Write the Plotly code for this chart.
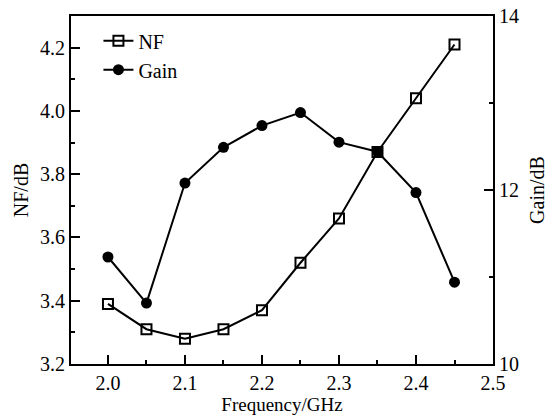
import plotly.graph_objects as go

freq = [2.0, 2.05, 2.1, 2.15, 2.2, 2.25, 2.3, 2.35, 2.4, 2.45]
nf = [3.39, 3.31, 3.28, 3.31, 3.37, 3.52, 3.66, 3.87, 4.04, 4.21]
gain = [11.23, 10.70, 12.08, 12.49, 12.74, 12.89, 12.55, 12.44, 11.97, 10.94]

FONT = "Liberation Serif"

fig = go.Figure()
fig.add_trace(go.Scatter(
    x=freq, y=nf, name="NF", mode="lines+markers",
    line=dict(color="black", width=2),
    marker=dict(symbol="square-open", size=10, color="black", line=dict(width=2)),
))
fig.add_trace(go.Scatter(
    x=freq, y=gain, name="Gain", mode="lines+markers", yaxis="y2",
    line=dict(color="black", width=2),
    marker=dict(symbol="circle", size=11, color="black"),
))

axis_common = dict(
    showgrid=False, zeroline=False, showline=True, linecolor="black", linewidth=2,
    ticks="inside", ticklen=9, tickwidth=1.5, tickcolor="black", automargin=False,
    tickfont=dict(family=FONT, size=20, color="black"),
)

fig.update_layout(
    width=548, height=416,
    margin=dict(l=71, r=55, t=16, b=52),
    paper_bgcolor="white", plot_bgcolor="white",
    font=dict(family=FONT, size=20, color="black"),
    showlegend=True,
    legend=dict(x=0.065, y=0.985, xanchor="left", yanchor="top",
                bgcolor="rgba(0,0,0,0)", font=dict(family=FONT, size=20),
                itemwidth=30, tracegroupgap=0),
    xaxis=dict(
        **axis_common, range=[1.952, 2.5], dtick=0.1, tick0=2.0, tickformat=".1f",
        mirror=True,
        minor=dict(ticks="inside", ticklen=4, dtick=0.05, tick0=2.0, tickcolor="black", tickwidth=1.5),
        title=dict(text="Frequency/GHz", font=dict(family=FONT, size=19), standoff=2),
    ),
    yaxis=dict(
        **axis_common, range=[3.2, 4.3], dtick=0.2, tick0=3.2, tickformat=".1f",
        minor=dict(ticks="inside", ticklen=4, dtick=0.1, tick0=3.2, tickcolor="black", tickwidth=1.5),
        title=dict(text="NF/dB", font=dict(family=FONT, size=20), standoff=6),
    ),
    yaxis2=dict(
        **axis_common, overlaying="y", side="right", range=[10, 14], dtick=2, tick0=10,
        minor=dict(ticks="inside", ticklen=4, dtick=1, tick0=10, tickcolor="black", tickwidth=1.5),
        title=dict(text="Gain/dB", font=dict(family=FONT, size=20), standoff=18),
    ),
)

fig.write_html("out.html")
